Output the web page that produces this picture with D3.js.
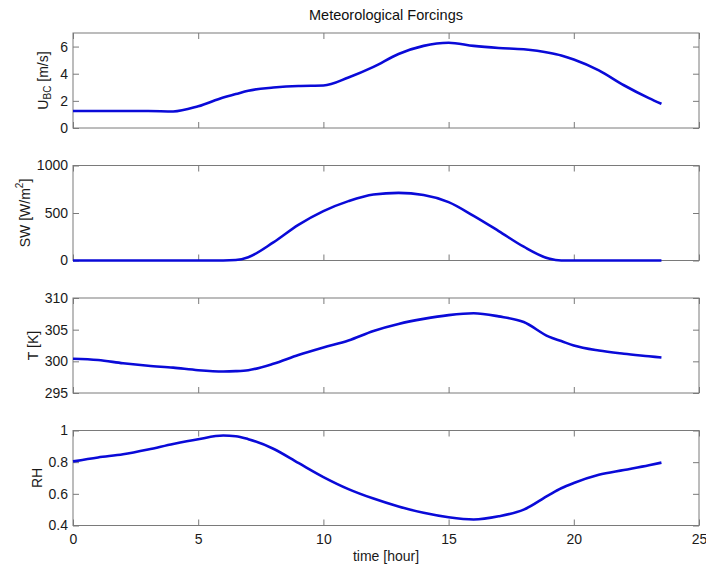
<!DOCTYPE html>
<html><head><meta charset="utf-8">
<script src="https://cdn.jsdelivr.net/npm/d3@7"></script>
<style>
body{margin:0;background:#fff;}
svg{display:block;font-family:"Liberation Sans",Arial,sans-serif;}
</style></head>
<body>
<svg id="chart" width="706" height="565"></svg>
<script>
const hours = [0,1,2,3,4,5,6,6.5,7,8,9,10,11,12,13,14,15,16,17,18,19,19.5,20,21,22,23,23.5];
const windU = [1.25,1.25,1.25,1.25,1.22,1.6,2.25,2.5,2.75,2.98,3.1,3.13,3.72,4.5,5.45,6.05,6.28,6.05,5.9,5.8,5.55,5.35,5.05,4.25,3.15,2.2,1.78];
const shortwave = [0,0,0,0,0,0,0,5,35,190,375,520,625,695,712,690,615,470,310,145,20,0,0,0,0,0,0];
const temperature = [300.4,300.2,299.7,299.3,299.0,298.6,298.4,298.45,298.6,299.6,301.0,302.2,303.3,304.8,305.9,306.7,307.3,307.6,307.1,306.2,303.9,303.2,302.5,301.7,301.2,300.8,300.6];
const humidity = [0.805,0.83,0.85,0.88,0.915,0.945,0.968,0.964,0.945,0.885,0.795,0.706,0.63,0.57,0.52,0.48,0.452,0.438,0.458,0.50,0.592,0.635,0.668,0.72,0.75,0.78,0.797];

const xTicks = [0,5,10,15,20,25];
const panels = [
  {values: windU, domain:[0,7], ticks:[0,2,4,6], label:"U", sub:"BC", unit:" [m/s]"},
  {values: shortwave, domain:[0,1000], ticks:[0,500,1000], label:"SW [W/m", sup:"2", unitEnd:"]"},
  {values: temperature, domain:[295,310], ticks:[295,300,305,310], label:"T [K]"},
  {values: humidity, domain:[0.4,1], ticks:[0.4,0.6,0.8,1], label:"RH"}
];
const tops = [33, 165.5, 298, 430.5];
const labelXs = [43, 25, 32.5, 36.5];
const left = 73, right = 699, ph = 95;

const svg = d3.select("#chart");
const x = d3.scaleLinear().domain([0,25]).range([left,right]);
const tickLen = 6;
const fs = 14;

svg.append("text").attr("x",(left+right)/2).attr("y",20).attr("text-anchor","middle")
  .attr("font-size",14.5).attr("fill","#111").text("Meteorological Forcings");

panels.forEach((p,i)=>{
  const top = tops[i], bot = top+ph;
  const y = d3.scaleLinear().domain(p.domain).range([bot,top]);
  const g = svg.append("g");
  g.append("rect").attr("x",left).attr("y",top).attr("width",right-left).attr("height",ph)
    .attr("fill","none").attr("stroke","#7a7a7a").attr("stroke-width",1);
  const axB = d3.axisBottom(x).tickValues(xTicks).tickSizeInner(-tickLen).tickSizeOuter(0)
    .tickPadding(9).tickFormat(i===3 ? d3.format("d") : ()=>"");
  const gb = g.append("g").attr("transform",`translate(0,${bot})`).call(axB);
  const axT = d3.axisTop(x).tickValues(xTicks).tickSizeInner(-tickLen).tickSizeOuter(0).tickFormat(()=>"");
  const gt = g.append("g").attr("transform",`translate(0,${top})`).call(axT);
  const axL = d3.axisLeft(y).tickValues(p.ticks).tickSizeInner(-tickLen).tickSizeOuter(0).tickPadding(5)
    .tickFormat(d=>d3.format("~g")(d));
  const gl = g.append("g").attr("transform",`translate(${left},0)`).call(axL);
  const axR = d3.axisRight(y).tickValues(p.ticks).tickSizeInner(-tickLen).tickSizeOuter(0).tickFormat(()=>"");
  const gr = g.append("g").attr("transform",`translate(${right},0)`).call(axR);
  [gb,gt,gl,gr].forEach(a=>{
    a.select(".domain").remove();
    a.selectAll(".tick line").attr("stroke","#7a7a7a");
    a.selectAll(".tick text").attr("font-size",fs).attr("fill","#1a1a1a")
      .attr("font-family",'"Liberation Sans",Arial,sans-serif');
  });
  const line = d3.line().x((d,k)=>x(hours[k])).y(d=>y(d)).curve(d3.curveMonotoneX);
  g.append("path").datum(p.values).attr("d",line).attr("fill","none")
    .attr("stroke","#0a0ad8").attr("stroke-width",2.6).attr("stroke-linejoin","round");
  const lx = labelXs[i], ly = (top+bot)/2;
  const t = g.append("text").attr("transform",`translate(${lx},${ly}) rotate(-90)`)
    .attr("text-anchor","middle").attr("dominant-baseline","central").attr("font-size",fs).attr("fill","#1a1a1a");
  if (p.sub){
    t.append("tspan").text(p.label);
    t.append("tspan").attr("font-size",10).attr("dy",4).text(p.sub);
    t.append("tspan").attr("dy",-4).text(p.unit);
  } else if (p.sup){
    t.append("tspan").text(p.label);
    t.append("tspan").attr("font-size",10).attr("dy",-6).text(p.sup);
    t.append("tspan").attr("dy",6).text(p.unitEnd);
  } else {
    t.text(p.label);
  }
});

svg.append("text").attr("x",(left+right)/2).attr("y",561).attr("text-anchor","middle")
  .attr("font-size",fs).attr("fill","#1a1a1a").text("time [hour]");
</script>
</body></html>
